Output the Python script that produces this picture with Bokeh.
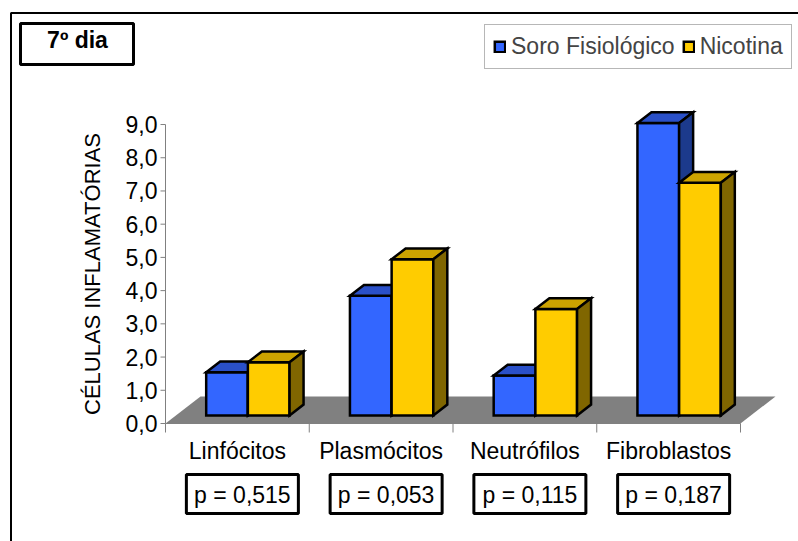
import math
from bokeh.plotting import figure
from bokeh.models import Range1d, Legend, LegendItem, ColumnDataSource
from bokeh.core.properties import value
from bokeh.embed import file_html
from bokeh.resources import INLINE

# ---------------- data ----------------
categories = ["Linfócitos", "Plasmócitos", "Neutrófilos", "Fibroblastos"]
soro_fisiologico = [1.3, 3.6, 1.2, 8.8]
nicotina = [1.6, 4.7, 3.2, 7.0]
p_values = ["p = 0,515", "p = 0,053", "p = 0,115", "p = 0,187"]
series_names = ["Soro Fisiológico", "Nicotina"]
y_ticks = [0, 1, 2, 3, 4, 5, 6, 7, 8, 9]
y_tick_labels = ["0,0", "1,0", "2,0", "3,0", "4,0", "5,0", "6,0", "7,0", "8,0", "9,0"]
panel_title = "7º dia"
y_title = "CÉLULAS INFLAMATÓRIAS"

# ---------------- layout / style constants ----------------
FONT = "Liberation Sans"
W, H = 798, 541
X0_PX, Y0_PX = 165, 423    # pixel position of the (0, 0) corner of the axes
PX_X = 143.75              # pixels per category
PX_Y = 33.22               # pixels per value unit


def dx(px):   # pixel length -> x data length
    return px / PX_X


def dy(px):   # pixel length -> y data length
    return px / PX_Y


def sx(px):   # pixel column -> x data
    return (px - X0_PX) / PX_X


def sy(py):   # pixel row -> y data
    return (Y0_PX - py) / PX_Y


FDX, FDY = dx(35), dy(27)  # floor depth
BASE, DEPTH = 0.3, 0.4     # bar position inside the floor depth
BW = 0.29                  # bar width (category units)
AXIS_GRAY = "#808080"

face_colors = [
    ("#3366FF", "#2A50C8", "#1C3A8C"),   # front, top, side (blue)
    ("#FFCC00", "#CCA300", "#806600"),   # yellow
]

p = figure(width=W, height=H, output_backend="svg", toolbar_location=None,
           x_range=Range1d(sx(0), sx(W)), y_range=Range1d(sy(H), sy(0)),
           x_axis_location=None, y_axis_location=None,
           min_border=0)
p.outline_line_color = None
p.background_fill_color = "white"
p.border_fill_color = "white"
p.xgrid.visible = False
p.ygrid.visible = False

n = len(categories)
centers = [i + 0.5 for i in range(n)]

# ---------------- outer frame ----------------
p.line([sx(10.5), sx(10.5), sx(W + 5)], [sy(H + 5), sy(12.5), sy(12.5)],
       line_color="black", line_width=2)

# ---------------- floor ----------------
p.patch([0, n, n + FDX, FDX], [0, 0, FDY, FDY], fill_color="#808080", line_color=None)

# ---------------- y axis ----------------
p.segment(x0=[0], y0=[0], x1=[0], y1=[max(y_ticks)], line_color=AXIS_GRAY, line_width=1)
p.segment(x0=[-dx(5)] * len(y_ticks), y0=y_ticks, x1=[0] * len(y_ticks), y1=y_ticks,
          line_color=AXIS_GRAY, line_width=1)
p.text(x=[-dx(8)] * len(y_ticks), y=y_ticks, text=y_tick_labels,
       text_align="right", text_baseline="middle",
       text_font=value(FONT), text_font_size=value("23px"), text_color="black")
p.text(x=[sx(92)], y=[max(y_ticks) / 2], text=[y_title], angle=math.pi / 2,
       text_align="center", text_baseline="middle",
       text_font=value(FONT), text_font_size=value("22px"), text_color="black")

# ---------------- x axis ----------------
p.segment(x0=[0], y0=[0], x1=[n], y1=[0], line_color=AXIS_GRAY, line_width=1)
bounds = list(range(n + 1))
p.segment(x0=bounds, y0=[0] * (n + 1), x1=bounds, y1=[-dy(9)] * (n + 1),
          line_color=AXIS_GRAY, line_width=1)
p.text(x=centers, y=[sy(450)] * n, text=categories,
       text_align="center", text_baseline="middle",
       text_font=value(FONT), text_font_size=value("23px"), text_color="black")

# ---------------- 3D bars ----------------
renderers = []
for s, vals in enumerate([soro_fisiologico, nicotina]):
    xs, ys, cols = [], [], []
    front, top, side = face_colors[s]
    ddx, ddy = DEPTH * FDX, DEPTH * FDY
    for i, v in enumerate(vals):
        left = i + 0.5 - BW + s * BW + BASE * FDX
        right = left + BW
        y0 = BASE * FDY
        y1 = y0 + v
        xs += [[left, right, right, left],
               [left, right, right + ddx, left + ddx],
               [right, right + ddx, right + ddx, right]]
        ys += [[y0, y0, y1, y1],
               [y1, y1, y1 + ddy, y1 + ddy],
               [y0, y0 + ddy, y1 + ddy, y1]]
        cols += [front, top, side]
    src = ColumnDataSource(dict(xs=xs, ys=ys, color=cols))
    r = p.patches("xs", "ys", source=src, fill_color="color",
                  line_color="black", line_width=2.5, line_join="miter")
    renderers.append(r)

# ---------------- legend ----------------
legend = Legend(items=[LegendItem(label=series_names[k], renderers=[renderers[k]], index=0)
                       for k in range(2)],
                orientation="horizontal", location=(484, H - 69))
legend.border_line_color = "#707070"
legend.border_line_width = 1
legend.padding = 8
legend.margin = 0
legend.spacing = 7
legend.glyph_width = 13
legend.glyph_height = 13
legend.label_standoff = 5
legend.label_text_font = FONT
legend.label_text_font_size = "23px"
legend.background_fill_alpha = 1
p.add_layout(legend)

# ---------------- title box ----------------
p.quad(left=[sx(20)], right=[sx(133)], top=[sy(23)], bottom=[sy(64)],
       fill_color="white", line_color="black", line_width=3)
p.text(x=[sx(77)], y=[sy(39.5)], text=[panel_title], text_align="center",
       text_baseline="middle", text_font=value(FONT), text_font_size=value("23px"),
       text_font_style="bold", text_color="black")

# ---------------- p-value boxes ----------------
box_c = [c + dx(5) for c in centers]
p.quad(left=[c - dx(56) for c in box_c], right=[c + dx(56) for c in box_c],
       top=[sy(474)] * n, bottom=[sy(513)] * n,
       fill_color="white", line_color="black", line_width=3)
p.text(x=box_c, y=[sy(494)] * n, text=p_values, text_align="center",
       text_baseline="middle", text_font=value(FONT), text_font_size=value("23px"),
       text_color="black")

open("out.html", "w").write(file_html(p, INLINE))
